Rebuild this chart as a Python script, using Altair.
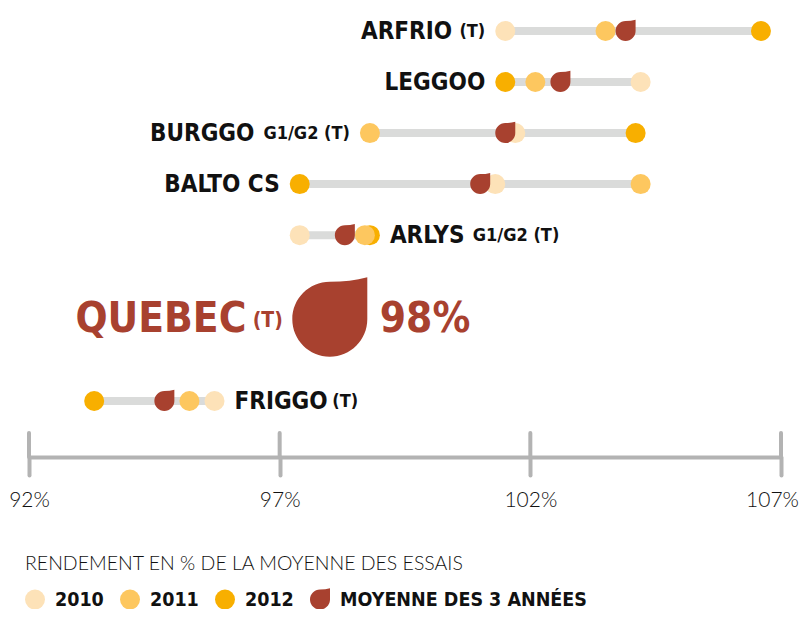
import altair as alt
import pandas as pd

# ---------------- data ----------------
VARIETIES = ["ARFRIO", "LEGGOO", "BURGGO", "BALTO CS", "ARLYS", "FRIGGO"]
SUFFIXES = ["(T)", "", "G1/G2 (T)", "", "G1/G2 (T)", "(T)"]
Y2010 = [101.5, 104.2, 101.7, 101.3, 97.4, 95.7]
Y2011 = [103.5, 102.1, 98.8, 104.2, 98.7, 95.2]
Y2012 = [106.6, 101.5, 104.1, 97.4, 98.8, 93.3]
AVG = [103.9, 102.6, 101.5, 101.0, 98.3, 94.7]

HIGHLIGHT_NAME = "QUEBEC"
HIGHLIGHT_SUFFIX = "(T)"
HIGHLIGHT_AVG = 98

TICKS = [92, 97, 102, 107]
SERIES = ["2010", "2011", "2012", "MOYENNE DES 3 ANNÉES"]
LEGEND_TITLE = "RENDEMENT EN % DE LA MOYENNE DES ESSAIS"

# ---------------- layout / style ----------------
LABEL_SIDE = ["left", "left", "left", "left", "right", "right"]
ROW_SLOT = [0, 1, 2, 3, 4, 7.25]
HIGHLIGHT_SLOT = 5.65

W, H = 793, 449
X_RANGE = [21, 773]
Y_RANGE = [23, 393]
PPU = (X_RANGE[1] - X_RANGE[0]) / (TICKS[-1] - TICKS[0])

C2010, C2011, C2012, CAVG = "#fde2b8", "#fdc75f", "#f8af00", "#a8412f"
BAR = "#dadbda"
AXIS = "#b3b3b3"
FONT_B = "DejaVu Sans Condensed"
FONT_L = "Lato"
DROP = "M0,-1 Q0.55,-1 1,-1.12 L1,0 A1,1 0 1 1 0,-1 Z"

MAIN_SIZE, SUF_SIZE = 24, 18
CHAR_W = {"A": .7, "B": .67, "C": .64, "E": .58, "F": .56, "G": .72, "I": .32,
          "L": .54, "O": .76, "R": .66, "S": .6, "T": .6, "Y": .62, "Q": .78,
          "U": .72, "(": .4, ")": .4, "/": .42, " ": .3}


def est_w(s, size):
    return sum(CHAR_W.get(ch, .65) for ch in s) * size


xs = alt.Scale(domain=[TICKS[0], TICKS[-1]], range=X_RANGE)
ys = alt.Scale(domain=[0, 7.25], range=Y_RANGE)

bars, pts, main_lab, suf_lab = [], [], [], []
for i, name in enumerate(VARIETIES):
    vals = [Y2010[i], Y2011[i], Y2012[i]]
    lo, hi = min(vals), max(vals)
    s = ROW_SLOT[i]
    bars.append({"lo": lo, "hi": hi, "slot": s})
    for yr, v in (("2012", Y2012[i]), ("2010", Y2010[i]), ("2011", Y2011[i])):
        pts.append({"serie": yr, "v": v, "slot": s, "k": len(pts)})
    gap = 8
    if LABEL_SIDE[i] == "left":
        anchor = lo - 20 / PPU
        if SUFFIXES[i]:
            suf_lab.append({"t": SUFFIXES[i], "x": anchor, "slot": s, "al": "right"})
            mx = anchor - (est_w(SUFFIXES[i], SUF_SIZE) + gap) / PPU
        else:
            mx = anchor
        main_lab.append({"t": name, "x": mx, "slot": s, "al": "right"})
    else:
        anchor = hi + 20 / PPU
        main_lab.append({"t": name, "x": anchor, "slot": s, "al": "left"})
        if SUFFIXES[i]:
            sx = anchor + (est_w(name, MAIN_SIZE) + gap) / PPU
            suf_lab.append({"t": SUFFIXES[i], "x": sx, "slot": s, "al": "left"})
for i, name in enumerate(VARIETIES):
    pts.append({"serie": SERIES[3], "v": AVG[i], "slot": ROW_SLOT[i], "k": len(pts)})

bars_df = pd.DataFrame(bars)
pts_df = pd.DataFrame(pts)
main_df = pd.DataFrame(main_lab)
suf_df = pd.DataFrame(suf_lab)

bar_layer = alt.Chart(bars_df).mark_rule(strokeWidth=8, color=BAR).encode(
    x=alt.X("lo:Q", scale=xs, axis=alt.Axis(
        values=TICKS, labelExpr="datum.value + '%'", title=None, grid=False,
        domainColor=AXIS, domainWidth=4, tickColor=AXIS, tickWidth=4, tickSize=18,
        tickCap="round", labelFont=FONT_L, labelFontSize=21, labelColor="#111",
        labelPadding=14, labelFontWeight=300, labelFlush=False,
        labelOffset={"condition": {"test": f"datum.value == {TICKS[-1]}", "value": -9},
                     "value": 0})),
    x2="hi:Q",
    y=alt.Y("slot:Q", scale=ys, axis=None),
)

tick_up = alt.Chart(pd.DataFrame({"t": TICKS})).mark_rule(
    strokeWidth=4, color=AXIS, strokeCap="round").encode(
    x=alt.X("t:Q", scale=xs), y=alt.value(425), y2=alt.value(449))

pt_layer = alt.Chart(pts_df).mark_point(filled=True, opacity=1, strokeWidth=0).encode(
    x=alt.X("v:Q", scale=xs),
    y=alt.Y("slot:Q", scale=ys),
    color=alt.Color("serie:O", scale=alt.Scale(domain=SERIES, range=[C2010, C2011, C2012, CAVG]),
                    legend=alt.Legend(
                        title=LEGEND_TITLE, orient="none", legendX=17, legendY=547,
                        direction="horizontal", titleFont=FONT_L, titleFontSize=19.5,
                        titleFontWeight=300, titleColor="#111", titlePadding=15,
                        titleLimit=800, labelFont=FONT_B, labelFontSize=19.5,
                        labelFontWeight="bold", labelColor="#111", labelOffset=10,
                        labelLimit=400, columnPadding=16, symbolStrokeWidth=0,
                        symbolOpacity=1)),
    shape=alt.Shape("serie:O", scale=alt.Scale(domain=SERIES, range=["circle", "circle", "circle", DROP])),
    size=alt.Size("serie:O", scale=alt.Scale(domain=SERIES, range=[400, 400, 400, 900])),
    order=alt.Order("k:Q"),
)


def text_layer(df, size, align):
    return alt.Chart(df[df["al"] == align]).mark_text(
        font=FONT_B, fontSize=size, fontWeight="bold", color="#111",
        baseline="middle", align=align, dy=1).encode(
        x=alt.X("x:Q", scale=xs), y=alt.Y("slot:Q", scale=ys), text="t:N")


labels = [text_layer(main_df, MAIN_SIZE, "left"), text_layer(main_df, MAIN_SIZE, "right"),
          text_layer(suf_df, SUF_SIZE, "left"), text_layer(suf_df, SUF_SIZE, "right")]

HL_SUF, HL_MAIN = 21, 42
hl = pd.DataFrame({"v": [HIGHLIGHT_AVG], "slot": [HIGHLIGHT_SLOT],
                   "name": [HIGHLIGHT_NAME], "suf": [HIGHLIGHT_SUFFIX],
                   "pct": [f"{HIGHLIGHT_AVG}%"]})
hl_base = alt.Chart(hl).encode(x=alt.X("v:Q", scale=xs), y=alt.Y("slot:Q", scale=ys))
hl_drop = hl_base.mark_point(shape=DROP, size=5625, filled=True, opacity=1,
                             strokeWidth=0, color=CAVG)
hl_suf = hl_base.mark_text(font=FONT_B, fontSize=HL_SUF, fontWeight="bold", color=CAVG,
                           align="right", baseline="middle", dx=-47, dy=2).encode(text="suf:N")
hl_name = hl_base.mark_text(font=FONT_B, fontSize=HL_MAIN, fontWeight="bold", color=CAVG,
                            align="right", baseline="middle",
                            dx=-47 - est_w(HIGHLIGHT_SUFFIX, HL_SUF) - 7).encode(text="name:N")
hl_pct = hl_base.mark_text(font=FONT_B, fontSize=HL_MAIN, fontWeight="bold", color=CAVG,
                           align="left", baseline="middle", dx=50).encode(text="pct:N")

chart = alt.layer(bar_layer, tick_up, pt_layer, *labels, hl_drop, hl_suf, hl_name, hl_pct).properties(
    width=W, height=H,
    autosize=alt.AutoSizeParams(type="none"),
    padding={"left": 0, "top": 0, "right": 0, "bottom": 152},
).configure_view(stroke=None)

chart.save("out.html", embed_options={"renderer": "svg", "actions": False})
